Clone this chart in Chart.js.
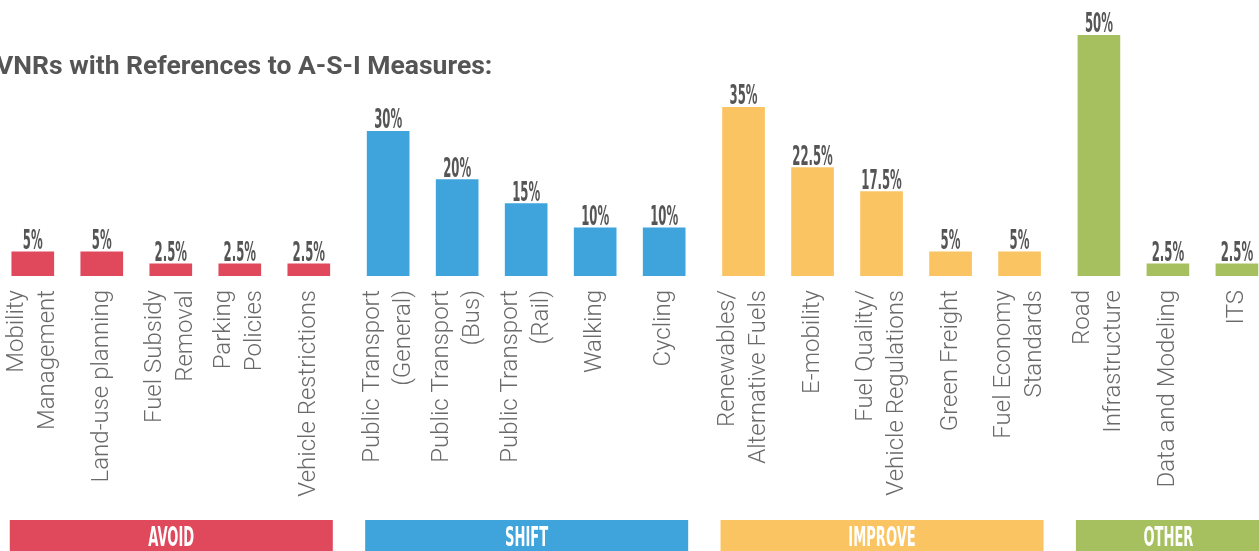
<!DOCTYPE html>
<html>
<head>
<meta charset="utf-8">
<script src="https://cdn.jsdelivr.net/npm/chart.js@4"></script>
<style>
html,body{margin:0;padding:0;background:#fff;overflow:hidden;}
#wrap{position:relative;width:1259px;height:551px;}
</style>
</head>
<body>
<div id="wrap"><canvas id="c" width="1259" height="551"></canvas></div>
<script>
// ---- data ----
const titleText = "VNRs with References to A-S-I Measures:";
const groupNames = ["AVOID", "SHIFT", "IMPROVE", "OTHER"];
const groupColors = ["#E0485C", "#3FA4DC", "#FAC463", "#A6C05F"];
const avoidLabels = [["Mobility","Management"], "Land-use planning", ["Fuel Subsidy","Removal"], ["Parking","Policies"], "Vehicle Restrictions"];
const avoidValues = [5, 5, 2.5, 2.5, 2.5];
const shiftLabels = [["Public Transport","(General)"], ["Public Transport","(Bus)"], ["Public Transport","(Rail)"], "Walking", "Cycling"];
const shiftValues = [30, 20, 15, 10, 10];
const improveLabels = [["Renewables/","Alternative Fuels"], "E-mobility", ["Fuel Quality/","Vehicle Regulations"], "Green Freight", ["Fuel Economy","Standards"]];
const improveValues = [35, 22.5, 17.5, 5, 5];
const otherLabels = [["Road","Infrastructure"], "Data and Modeling", "ITS"];
const otherValues = [50, 2.5, 2.5];

const groupLabels = [avoidLabels, shiftLabels, improveLabels, otherLabels];
const groupValues = [avoidValues, shiftValues, improveValues, otherValues];

// build library table: slot index plus a small gap between groups
const GROUP_GAP = 0.15;
const points = [], labels = [], colors = [], groupOf = [];
let slot = 0;
groupValues.forEach((vals, g) => {
  vals.forEach((v, i) => {
    points.push({ x: slot + g * GROUP_GAP, y: v });
    labels.push(groupLabels[g][i]);
    colors.push(groupColors[g]);
    groupOf.push(g);
    slot++;
  });
});

const CONDENSED = '"Liberation Sans Narrow", "DejaVu Sans Condensed", sans-serif';
const condensed = (ctx, text, x, y, size, color, sx) => {
  ctx.save();
  ctx.font = 'bold ' + size + 'px ' + CONDENSED;
  ctx.fillStyle = color;
  ctx.textAlign = 'center';
  ctx.textBaseline = 'alphabetic';
  ctx.translate(x, y);
  ctx.scale(sx, 1);
  ctx.fillText(text, 0, 0);
  ctx.restore();
};

const LABEL_TOP = 290;
const LABEL_LINE = 31;

const decor = {
  id: 'decor',
  afterDraw(chart) {
    const ctx = chart.ctx;
    const xs = chart.scales.x;
    const meta = chart.getDatasetMeta(0);
    // title
    ctx.save();
    ctx.font = 'bold 26.5px Roboto, sans-serif';
    ctx.fillStyle = '#555555';
    ctx.textAlign = 'left';
    ctx.textBaseline = 'alphabetic';
    ctx.fillText(titleText, -4, 74);
    ctx.restore();
    // category labels (rotated, end-aligned under each bar)
    points.forEach((p, i) => {
      const px = xs.getPixelForValue(p.x);
      const lines = Array.isArray(labels[i]) ? labels[i] : [labels[i]];
      ctx.save();
      ctx.font = '300 24px Roboto, sans-serif';
      ctx.fillStyle = '#6a6a6a';
      ctx.textAlign = 'right';
      ctx.textBaseline = 'middle';
      ctx.translate(px, LABEL_TOP);
      ctx.rotate(-Math.PI / 2);
      lines.forEach((ln, k) => {
        ctx.fillText(ln, 0, (k - (lines.length - 1) / 2) * LABEL_LINE);
      });
      ctx.restore();
    });
    // value labels
    meta.data.forEach((bar, i) => {
      condensed(ctx, points[i].y + '%', bar.x, bar.y - 3, 26, '#555555', 0.5);
    });
    // group bands
    groupNames.forEach((name, g) => {
      const idx = groupOf.map((gg, i) => gg === g ? i : -1).filter(i => i >= 0);
      const left = xs.getPixelForValue(points[idx[0]].x) - 23;
      const right = xs.getPixelForValue(points[idx[idx.length - 1]].x) + 24;
      ctx.save();
      ctx.fillStyle = groupColors[g];
      ctx.fillRect(left, 520, right - left, 40);
      ctx.restore();
      condensed(ctx, name, (left + right) / 2, 546, 26, '#ffffff', 0.56);
    });
  }
};

new Chart(document.getElementById('c'), {
  type: 'bar',
  data: {
    datasets: [{
      data: points,
      backgroundColor: colors,
      barThickness: 42,
      borderWidth: 0
    }]
  },
  plugins: [decor],
  options: {
    responsive: false,
    animation: false,
    layout: { padding: { top: 35, left: 0, right: 0, bottom: 0 } },
    plugins: { legend: { display: false }, tooltip: { enabled: false }, title: { display: false } },
    scales: {
      y: { display: false, min: 0, max: 50 },
      x: {
        type: 'linear',
        min: -0.475,
        max: 17.77,
        offset: false,
        grid: { display: false, drawTicks: false },
        border: { display: false },
        afterBuildTicks(scale) { scale.ticks = points.map(p => ({ value: p.x })); },
        afterFit(scale) { scale.height = 275; scale.paddingLeft = 0; scale.paddingRight = 0; },
        ticks: { display: false }
      }
    }
  }
});
</script>
</body>
</html>
